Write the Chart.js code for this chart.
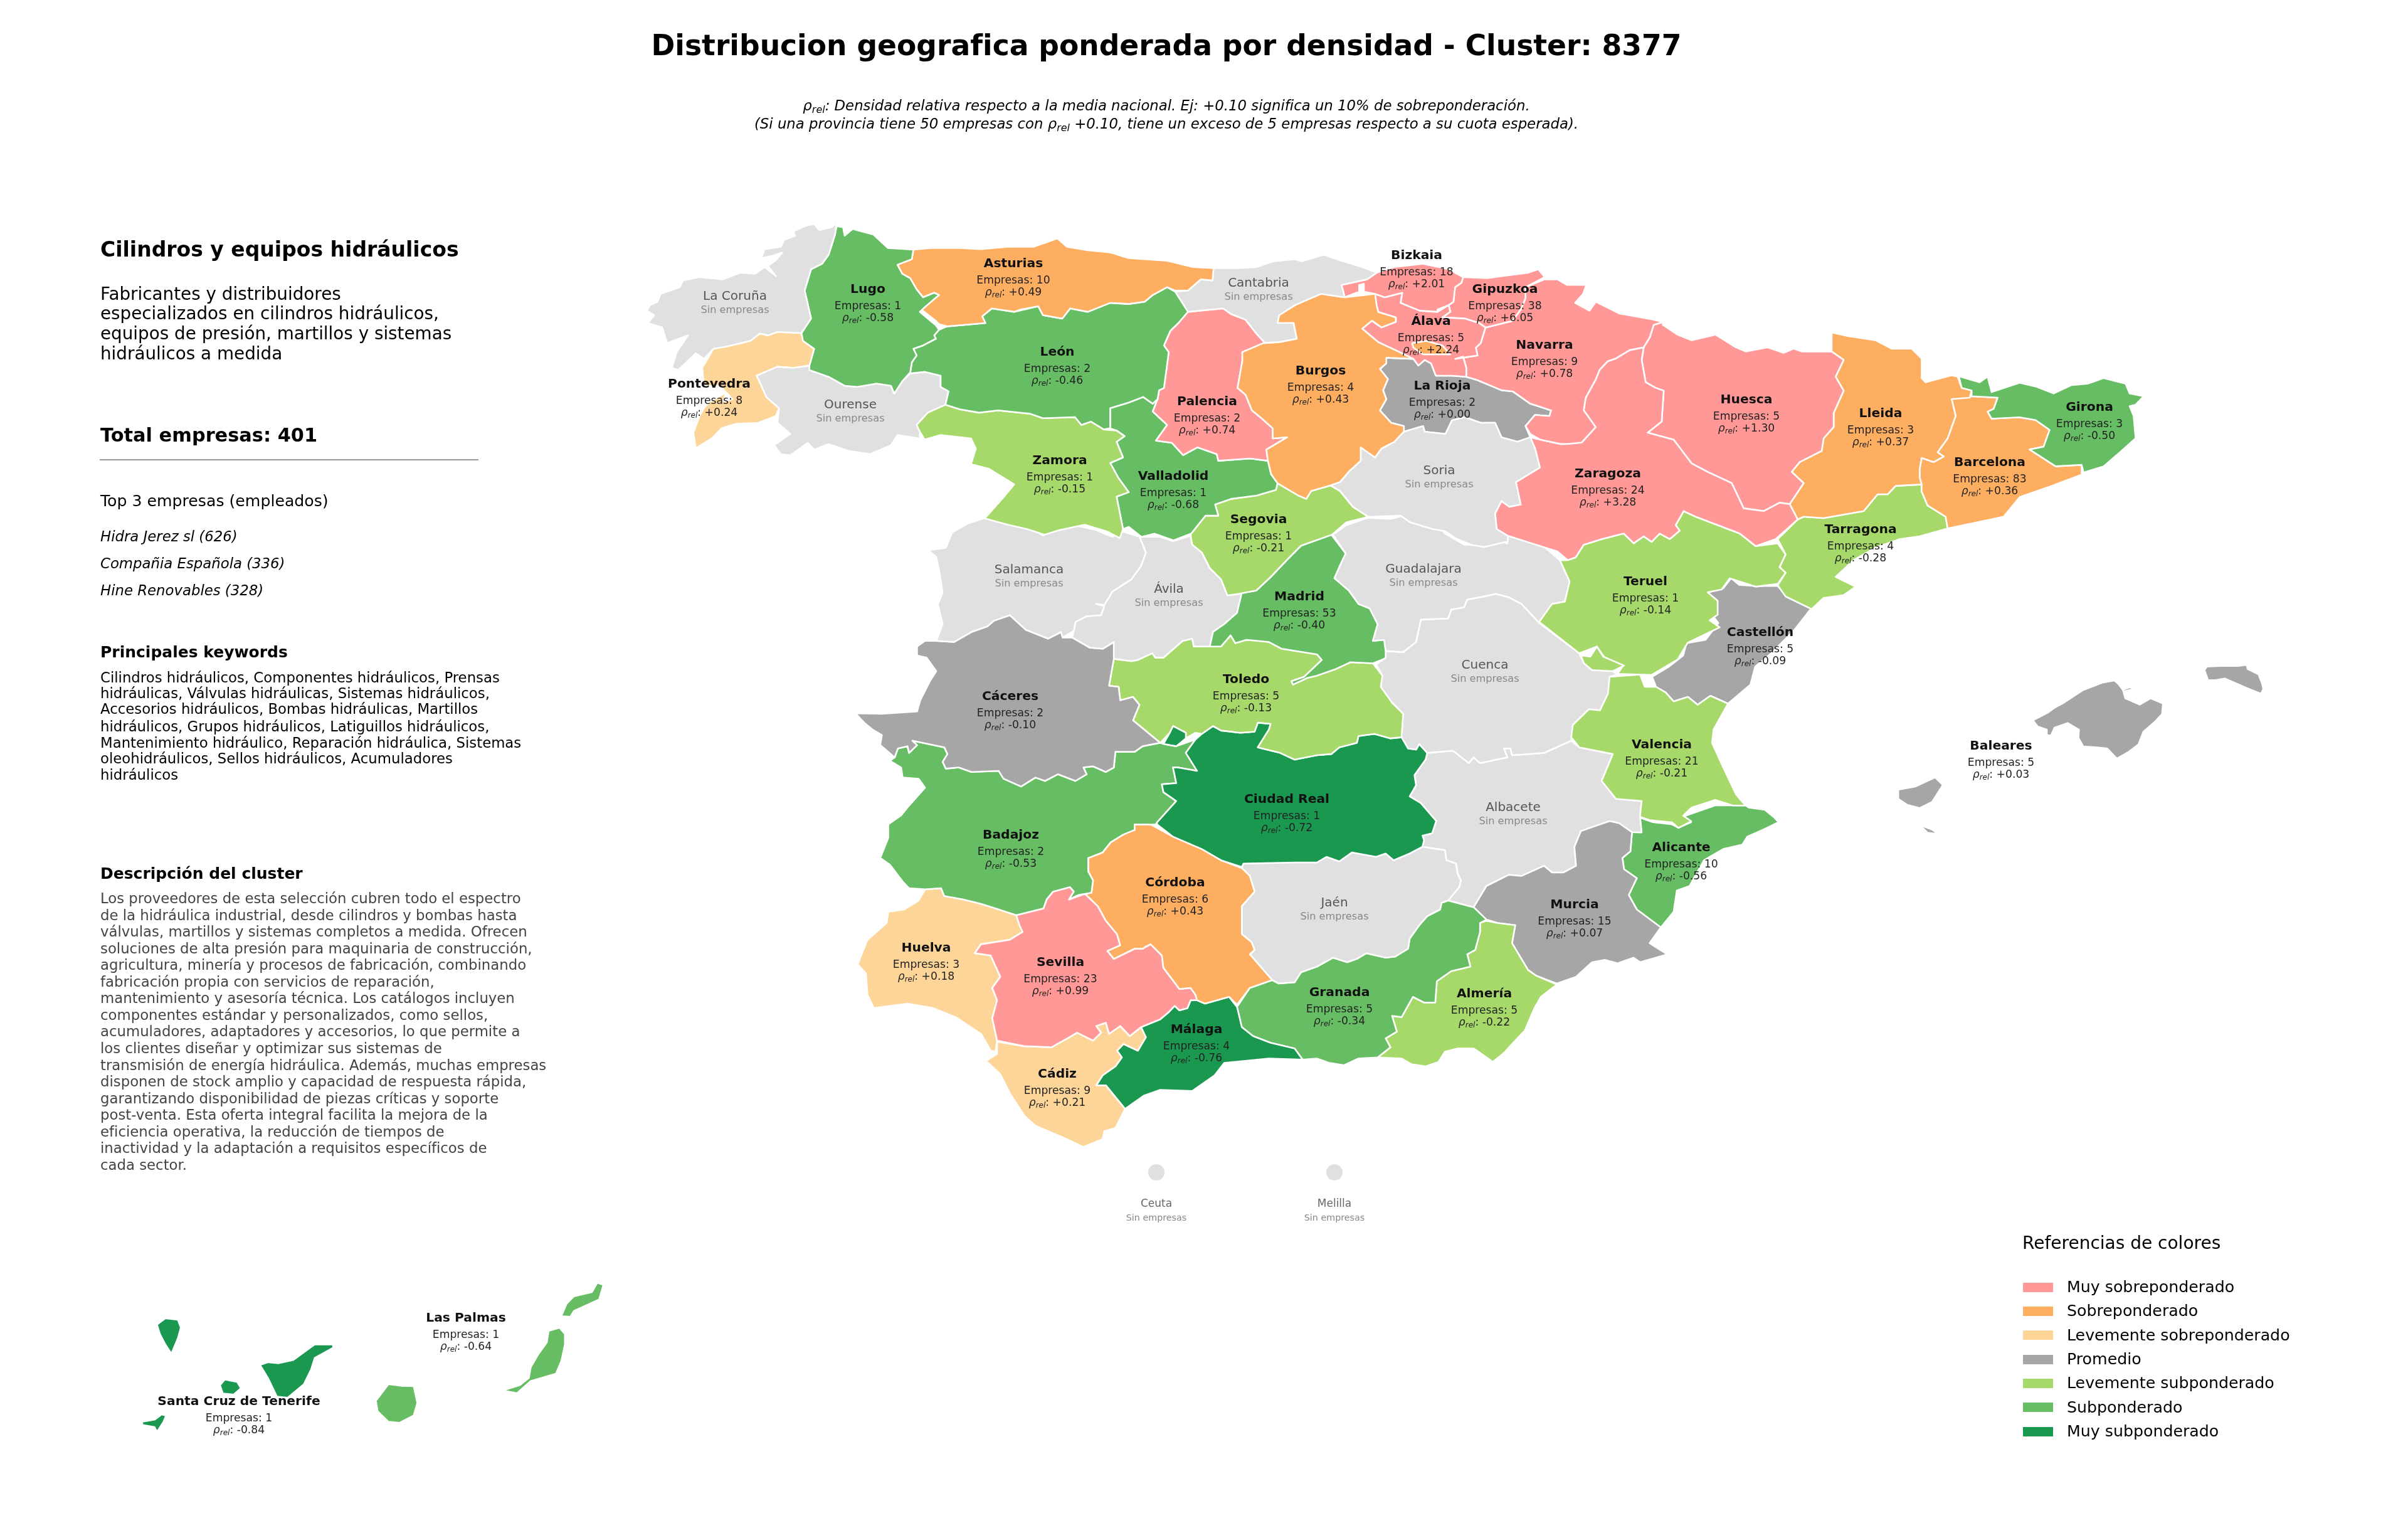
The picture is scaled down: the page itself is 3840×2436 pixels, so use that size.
<!DOCTYPE html>
<html lang="es"><head><meta charset="utf-8">
<script src="https://cdn.jsdelivr.net/npm/chart.js@4"></script>
<style>
html,body{margin:0;padding:0;background:#fff}
#page{position:relative;width:3840px;height:2436px;overflow:hidden;font-family:"DejaVu Sans",sans-serif;color:#000}
canvas{position:absolute;left:0;top:0}
.t{position:absolute;white-space:nowrap;line-height:1}
.c{transform:translate(-50%,-50%);text-align:center}
sub{font-size:.7em;line-height:0;vertical-align:-.25em}
</style></head><body>
<div id="page"><canvas id="map" width="3840" height="2436"></canvas></div>
<script>
// ---- Cuts of the picture that outlines were read from: origin x, origin y, zoom x, zoom y
const Z1=[1000,340,1.96,2.8],Z2=[1800,340,1.96,2.8],Z3=[2500,480,1.568,2.24],Z4=[1340,820,1.96,2.8],
      Z5=[2100,820,1.96,2.8],Z6=[1340,1300,1.96,2.8],Z7=[2100,1200,1.96,2.8],Z8=[100,2000,1.742,3],
      Z10=[3150,1040,2.613,3],OV=[0,0,.4083,.4083];

// ---- Province table
const provinceNames=["La Coruña","Lugo","Asturias","León","Pontevedra","Ourense","Zamora","Cantabria","Bizkaia","Gipuzkoa","Álava","Navarra","Burgos","Palencia","La Rioja","Soria","Valladolid","Segovia","Zaragoza","Huesca","Lleida","Girona","Barcelona","Tarragona","Teruel","Castellón","Salamanca","Ávila","Madrid","Cáceres","Toledo","Ciudad Real","Badajoz","Guadalajara","Cuenca","Valencia","Albacete","Alicante","Córdoba","Huelva","Sevilla","Cádiz","Málaga","Jaén","Granada","Almería","Murcia","Baleares","Las Palmas","Santa Cruz de Tenerife"];
const empresasCounts=[null,1,10,2,8,null,1,null,18,38,5,9,4,2,2,null,1,1,24,5,3,3,83,4,1,5,null,null,53,2,5,1,2,null,null,21,null,10,6,3,23,9,4,null,5,5,15,5,1,1];
const rhoValues=[null,-0.58,0.49,-0.46,0.24,null,-0.15,null,2.01,6.05,2.24,0.78,0.43,0.74,0.00,null,-0.68,-0.21,3.28,1.30,0.37,-0.50,0.36,-0.28,-0.14,-0.09,null,null,-0.40,-0.10,-0.13,-0.72,-0.53,null,null,-0.21,null,-0.56,0.43,0.18,0.99,0.21,-0.76,null,-0.34,-0.22,0.07,0.03,-0.64,-0.84];
const labelX=[1172,1384,1616,1686,1131,1356,1690,2007,2259,2400,2282,2463,2106,1925,2300,2295,1871,2007,2564,2785,2999,3332,3173,2967,2624,2807,1641,1864,2072,1611,1987,2052,1612,2270,2368,2650,2413,2681,1874,1477,1691,1686,1908,2128,2136,2367,2511,3191,743,381];
const labelY=[471,460,419,560,611,644,733,450,406,460,511,549,590,639,614,749,758,827,754,636,658,648,736,843,926,1007,907,938,950,1109,1082,1273,1330,906,1059,1186,1286,1350,1406,1510,1533,1711,1640,1438,1581,1583,1441,1188,2100,2233];

const cityNames=["Ceuta","Melilla"];
const cityX=[1844,2128];
const cityY=[1869,1869];
const cityLabelY=[1918,1918];

const legendLabels=["Muy sobreponderado","Sobreponderado","Levemente sobreponderado","Promedio","Levemente subponderado","Subponderado","Muy subponderado"];
const legendColors=["#FF9896","#FDAE61","#FED599","#A6A6A6","#A6D96A","#66BD63","#1A9850"];
const noDataColor="#E0E0E0";

const topCompanies=["Hidra Jerez sl (626)","Compañia Española (336)","Hine Renovables (328)"];
const keywordLines=["Cilindros hidráulicos, Componentes hidráulicos, Prensas","hidráulicas, Válvulas hidráulicas, Sistemas hidráulicos,","Accesorios hidráulicos, Bombas hidráulicas, Martillos","hidráulicos, Grupos hidráulicos, Latiguillos hidráulicos,","Mantenimiento hidráulico, Reparación hidráulica, Sistemas","oleohidráulicos, Sellos hidráulicos, Acumuladores","hidráulicos"];
const descriptionLines=["Los proveedores de esta selección cubren todo el espectro","de la hidráulica industrial, desde cilindros y bombas hasta","válvulas, martillos y sistemas completos a medida. Ofrecen","soluciones de alta presión para maquinaria de construcción,","agricultura, minería y procesos de fabricación, combinando","fabricación propia con servicios de reparación,","mantenimiento y asesoría técnica. Los catálogos incluyen","componentes estándar y personalizados, como sellos,","acumuladores, adaptadores y accesorios, lo que permite a","los clientes diseñar y optimizar sus sistemas de","transmisión de energía hidráulica. Además, muchas empresas","disponen de stock amplio y capacidad de respuesta rápida,","garantizando disponibilidad de piezas críticas y soporte","post-venta. Esta oferta integral facilita la mejora de la","eficiencia operativa, la reducción de tiempos de","inactividad y la adaptación a requisitos específicos de","cada sector."];
const clusterLines=["Fabricantes y distribuidores","especializados en cilindros hidráulicos,","equipos de presión, martillos y sistemas","hidráulicos a medida"];

// ---- Province outlines
const laCoruna=[Z1,[655,42,640,62,600,75,585,48,560,55,520,80,525,100,490,120,480,150,430,160,420,200,455,190,485,175,465,210,440,235,465,280,430,240,400,270,355,265,300,295,225,285,175,300,165,330,105,360,95,395,72,410,62,435,85,455,65,490,110,510,125,580,190,545,155,620,140,690,160,700,215,625,240,650,270,605,310,595,385,570,415,537,440,545,470,530,545,535,575,470,555,345,575,250,610,225,630,185,650,95]];
const lugo=[Z1,[650,95,655,58,675,62,680,100,705,70,770,95,815,155,895,162,890,205,845,230,860,270,885,290,905,340,925,375,960,355,975,365,930,420,915,440,965,500,975,520,960,545,965,560,925,590,895,605,905,635,890,665,885,710,860,750,835,805,825,770,780,760,720,775,680,770,630,730,570,700,570,680,585,605,550,570,545,535,575,470,555,345,575,250,610,225,630,185]];
const asturias=[Z1,[895,162,950,155,1040,155,1105,160,1190,150,1270,150,1310,130,1345,112,1375,150,1440,165,1510,175],Z2,[0,200,50,205,120,212,200,240,265,245,262,300,225,295,185,345,145,345,120,330,75,365,50,395,0,405],Z1,[1510,400,1440,440,1385,425,1360,470,1300,455,1285,415,1230,430,1210,440,1140,425,1110,460,1120,490,1000,505,975,495,965,480,920,430,975,365,960,355,925,375,905,340,885,290,860,270,845,230,890,205]];
const leon=[Z1,[1000,505,1120,490,1110,460,1140,425,1210,440,1285,415,1300,455,1360,470,1385,425,1440,440,1510,400],Z2,[0,405,50,395,75,365,120,330,145,350,185,440,155,490,130,525,110,590,125,620,110,780,95,790,90,830,75,850,45,820,0,845],Z1,[1510,870,1510,960,1490,965,1450,930,1420,945,1400,910,1300,915,1260,895,1160,880,1100,890,1040,875,995,855,1005,795,980,775,980,725,930,708,885,715,890,665,905,635,895,605,925,590,965,560,960,545,975,520]];
const zamora=[Z1,[995,855,1040,875,1100,890,1160,880,1260,895,1300,915,1400,910,1420,945,1450,930,1490,965,1530,970,1555,995,1530,1020,1550,1090,1510,1115,1535,1180,1568,1245,1530,1265,1550,1410,1540,1450,1500,1420,1430,1390,1350,1415,1305,1435,1250,1410,1190,1390,1118,1362,1175,1270,1210,1210,1130,1140,1075,1120,1090,1050,1075,1005,980,990,930,1010,915,975,905,945,940,890]];
const ourense=[Z1,[570,680,570,700,630,730,680,770,720,775,780,760,825,770,835,805,860,750,885,715,930,708,980,725,980,775,1005,795,995,855,940,890,905,945,915,975,915,1005,845,990,825,1035,760,1075,690,1060,630,1030,585,1055,565,1025,510,1080,480,1075,460,1035,510,985,470,935,475,870,435,820,420,770,405,725,470,685,520,690]];
const pontevedra=[Z1,[415,537,440,545,470,530,545,535,550,570,585,605,570,680,520,690,470,685,405,725,420,770,435,820,475,870,465,905,410,935,340,940,295,960,265,1005,215,1048,207,980,225,910,240,870,260,840,310,800,300,840,330,830,290,770,240,770,235,690,270,605,310,595,385,570]];
const cantabria=[Z2,[265,245,340,245,400,240,450,215,520,205,540,215,610,185,660,210,730,240,775,265,745,295,665,320,675,375,600,360,520,410,470,455,465,490,515,490,525,560,470,575,425,578,395,530,365,475,320,450,295,425,185,440,145,350,185,345,225,295,262,300]];
const bizkaia=[Z2,[665,320,745,295,775,265,830,240,920,225,1000,250,1045,285,1040,310,1020,330,1015,395,1000,410,965,430,965,440,910,435,850,400,855,355,800,375,770,360,735,350,735,315,720,320,720,350,675,375]];
const alava=[Z2,[770,360,800,375,855,355,850,400,910,435,965,440,1000,410,1005,440,980,465,1050,470,1095,490,1115,510,1100,580,1085,600,1090,635,1020,650,1045,640,1055,690,1055,730,1010,725,960,725,945,670,925,655,905,680,890,650,840,615,780,575,730,515,760,480,790,510,835,485,835,465,780,440,775,410]];
const trevino=[Z2,[885,580,930,570,980,590,1005,630,920,630,890,600]];
const gipuzkoa=[Z2,[1045,285,1120,290,1170,280,1250,265,1280,250,1300,285,1240,330,1240,380,1225,430,1200,480,1115,510,1095,490,1050,470,980,465,1005,440,1000,410,1015,395,1020,330,1040,310]];
const navarra=[Z2,[1300,295,1340,295,1370,320,1430,320,1420,360,1395,400,1440,435,1460,395],Z3,[130,45,210,65,238,75,215,85,205,130,190,165,155,175,120,205,100,215,80,245,70,280,45,345,40,390,70,450,35,505,0,510],Z2,[1350,1030,1285,1010,1255,985,1240,950,1270,900,1315,905,1320,880,1255,850,1200,795,1165,790,1090,745,1055,730,1055,690,1045,640,1020,650,1090,635,1085,600,1100,580,1115,510,1200,480,1225,430,1240,380,1240,330]];
const burgos=[Z2,[600,360,675,375,770,360,775,410,780,440,835,465,835,485,790,510,760,480,730,515,780,575,840,615,890,650,805,645,805,670,785,695,810,740,795,790,805,830,785,880,820,935,860,950,860,975,830,1020,790,1050,770,1090,725,1045,725,1105,690,1150,660,1200,630,1215,570,1240,555,1275,530,1260,465,1205,445,1165,435,1105,430,1055,495,1000,450,1005,450,960,415,915,385,880,365,810,340,780,355,660,355,620,420,580,470,575,525,560,515,490,465,490,470,455,520,410]];
const palencia=[Z2,[185,440,295,425,320,450,365,475,395,530,425,578,355,620,355,660,340,780,365,810,385,880,415,915,450,960,450,1005,495,1000,430,1055,435,1105,380,1095,280,1105,275,1075,215,1045,170,1080,135,1025,85,1015,120,945,75,885,90,830,95,790,110,780,125,620,110,590,130,525,155,490]];
const valladolid=[Z2,[0,845,45,820,75,850,90,830,75,885,120,945,85,1015,135,1025,170,1080,215,1045,275,1075,280,1105,380,1095,435,1105,445,1165,465,1205,460,1235,400,1260,320,1275,270,1300,280,1350,240,1350,195,1430,140,1460,80,1430,40,1445,0,1400],Z1,[1550,1410,1530,1265,1568,1245,1535,1180,1510,1115,1550,1090,1530,1020,1555,995,1530,970,1510,960,1510,870]];
const segovia=[Z2,[465,1205,530,1260,555,1275,570,1240,630,1215,660,1240,700,1310,748,1355,680,1380,635,1435],Z4,[1440,140,1395,205,1345,280,1300,340,1245,355,1210,362,1190,290,1155,240,1130,170,1100,135,1095,95],Z2,[195,1430,240,1350,280,1350,270,1300,320,1275,400,1260,460,1235]];
const soria=[Z2,[860,975,920,950,925,975,990,985,1010,925,1050,910,1100,935,1145,935,1165,1000,1215,1020,1255,1000,1270,1050,1285,1135,1210,1200,1225,1300,1190,1310,1165,1285,1145,1340,1150,1410,1185,1440,1185,1465,1110,1490,1070,1480,1020,1450,990,1420,950,1410,880,1380,850,1350,748,1355,700,1310,660,1240,630,1215,660,1200,690,1150,725,1105,725,1045,770,1090,790,1050,830,1020]];
const laRioja=[Z2,[805,645,890,650,905,680,925,655,945,670,960,725,1010,725,1055,730,1090,745,1165,790,1200,795,1255,850,1320,880,1315,905,1270,900,1240,950,1255,1000,1215,1020,1165,1000,1145,935,1100,935,1050,910,1010,925,990,985,925,975,920,950,860,975,860,950,820,935,785,880,805,830,795,790,810,740,785,695,805,670]];
const zaragoza=[Z2,[1255,1000,1285,1010,1350,1030,1372,1029],Z3,[35,505,70,450,40,390,45,345,70,280,80,245,100,215,120,205,155,175,190,165,185,210,195,290,220,310,240,320,235,430,200,470,265,495,310,580,350,610,410,650,440,740,490,750,530,720,555,725,575,780,520,850,470,875,430,830,320,770,290,750,270,800,280,820,255,850,230,830,210,860,190,840,165,865,140,830,85,850,40,870,20,915,0,925],Z2,[1340,1510,1185,1440,1150,1410,1145,1340,1165,1285,1190,1310,1225,1300,1210,1200,1285,1135,1270,1050]];
const huesca=[Z3,[238,75,215,85,205,130,190,165,185,210,195,290,220,310,240,320,235,430,200,470,265,495,310,580,350,610,410,650,440,740,490,750,530,720,555,725,590,650,560,610,580,575,635,535,640,490,665,450,665,400,690,320,670,270,690,210,660,180,585,180,565,170,540,185,500,165,445,180,420,165,370,120,310,140,275,120,238,85]];
const lleida=[Z3,[660,112,700,125,770,140,810,170,860,170,885,205,885,275,895,290,960,265,975,270,985,310,1010,320,1005,345,960,350,970,410,950,490,925,540,940,555,915,575,885,560,880,600,880,630,885,655,820,660,800,690,775,690,740,750,640,775,590,770,575,780,555,725,590,650,560,610,580,575,635,535,640,490,665,450,665,400,690,320,670,270,690,210,660,180]];
const girona=[Z3,[978,268,1030,290,1050,270,1060,325,1130,292,1170,305,1215,330,1260,300,1300,295,1340,275,1395,295,1405,330,1440,340,1420,370,1405,375,1415,410,1420,490,1385,535,1340,590,1290,612,1285,585,1220,590,1155,530,1190,520,1205,460,1170,425,1130,415,1060,420,1050,395,1065,385,1075,345,1010,340,1010,320,985,310]];
const barcelona=[Z3,[960,350,1010,340,1075,345,1065,385,1050,395,1060,420,1130,415,1170,425,1205,460,1190,520,1155,530,1220,590,1285,585,1285,620,1210,660,1130,700,1090,770,950,812,945,770,900,730,885,680,885,655,880,630,880,600,885,560,915,575,940,555,925,540,950,490,970,410]];
const tarragona=[Z3,[575,780,590,770,640,775,740,750,775,690,800,690,820,660,885,655,885,680,900,730,945,770,950,812,880,840,830,850,770,880,715,925,670,985,720,1020,690,1050,640,1060,610,1100,545,1055,525,1015,545,970,530,950,545,905,525,850]];
const teruel=[Z3,[0,925,20,915,40,870,85,850,140,830,165,865,190,840,210,860,230,830,255,850,280,820,270,800,290,750,320,770,430,830,470,875,525,865,545,905,530,950,545,970,525,1010,470,1020,405,990,385,1030,350,1040,375,1070,375,1120,355,1140,380,1165,300,1220,275,1280,210,1335],Z5,[940,712,955,680,900,640,875,590,820,620,695,480,735,400,775,390,790,300,760,205]];
const valencia=[Z5,[915,725,1010,715,1025,770,1060,770,1090,795,1115,835,1160,815,1190,850,1230,810,1285,845,1240,960,1235,1020,1270,1130,1310,1250,1340,1300,1300,1300,1245,1275,1170,1310,1145,1345,1170,1370,1130,1400,1110,1375,1040,1365,1010,1350,1015,1280,935,1270,890,1190,925,1070,820,1040,795,995,800,940,850,870,885,875,910,800]];
const ademuz=[Z5,[825,630,855,635,875,590,895,635,960,675,925,700,860,695,835,665]];
const castellon=[Z5,[1048,725,1100,680,1145,630,1155,575,1215,560,1255,485,1225,430,1245,380,1220,370,1220,350,1270,330,1295,285,1320,315,1370,320,1440,320,1470,365,1525,385,1545,420,1490,520,1420,620,1370,680,1355,760,1285,845,1230,810,1190,850,1160,815,1115,835,1090,795,1060,770]];
const guadalajara=[Z5,[50,90,90,50,160,15,230,20,270,5,380,50,400,85,460,135,510,140,560,110,595,130,595,90,630,80,690,120,760,205,790,300,775,390,735,400,695,485,640,400,600,370,560,355,510,370,470,380,460,415,420,425,410,465,325,470,310,570,270,615,215,610,210,560,175,565,190,490,165,420,130,400,100,340,55,285,75,220,90,175]];
const cuenca=[Z5,[325,470,410,465,420,425,460,415,470,380,510,370,560,355,600,370,640,400,695,485,820,620,835,665,860,695,925,700,940,715,915,725,910,800,885,875,850,870,800,940,795,1010,710,1065,610,1075,605,1045,585,1045,595,1085,510,1110,490,1085,475,1110,425,1055,345,1065,320,1025,310,1050,285,1045,265,995,270,890,235,840,200,770,205,720,185,670,215,640,215,610,270,615,310,570]];
const madrid=[Z5,[45,90,90,175,75,220,55,285,100,340,130,400,165,420,190,490,175,565,210,560,220,640,175,665,105,660,60,690,0,720],Z4,[1460,730,1415,760,1410,745,1450,725,1505,650,1490,625,1380,600,1340,570,1270,560,1235,575,1220,540,1190,590,1155,590,1165,525,1200,490,1240,440,1255,350,1300,340,1345,280,1395,205,1440,140]];
const salamanca=[Z4,[451,17,520,40,610,75,635,95,650,50,720,45,800,70,850,100,880,75,935,100,955,170,940,230,910,290,850,345,825,405,800,400,825,410,815,450,770,455,735,480,730,520,695,550,690,525,650,555,580,515,530,450,480,475,460,500,410,525,355,570,300,565,320,490,305,400,320,350,310,260,300,190,275,160,330,150,350,80,400,40]];
const avila=[Z4,[935,100,1000,100,1040,120,1095,95,1100,135,1130,170,1155,240,1190,290,1210,362,1255,355,1240,440,1200,490,1165,525,1155,590,1105,590,1100,555,1070,565,1010,640,985,640,975,620,930,650,910,655,855,645,855,570,820,600,780,595,725,550,730,520,735,480,770,455,815,450,825,410,800,400,825,405,850,345,910,290,940,230,955,170]];
const caceres=[Z4,[530,450,580,515,650,555,690,525,695,550,725,550,780,595,820,600,855,570,855,645,840,765,870,770,875,830,915,815,935,850,915,920,1000,1020,945,1035,920,1060,860,1060,855,1130,830,1150,790,1125,760,1130,770,1160,735,1190,680,1160,640,1190,610,1175,565,1215,510,1180,495,1145,410,1150,370,1130,330,1135,320,1105,335,1070,325,1040,225,1010,240,1030,215,1065,210,1035,180,1045,170,1085,125,1030,130,985,100,960,75,930,47,888,130,890,240,880,250,830,280,745,300,700,270,640,240,630,240,590,265,565,300,565,355,570,410,525,460,500,480,475]];
const toledo=[Z4,[855,645,910,655,930,650,975,620,985,640,1010,640,1070,565,1100,555,1105,590,1155,590,1190,590,1220,540,1235,575,1270,560,1340,570,1380,600,1490,625,1505,650,1450,725,1410,745,1415,760,1460,730,1490,720],Z5,[60,690,105,660,175,665,205,720,200,770,235,840,270,890,265,995,230,1000,180,980,130,990,125,1020,70,1040,45,1070],Z4,[1490,1075,1420,1095,1375,1065,1305,1040,1340,960,1345,935,1305,930,1295,970,1250,975,1190,965,1165,945,1130,980,1110,975,1080,1000,1080,975,1040,945,1030,975,1000,1020,915,920,935,850,915,815,875,830,870,770,840,765]];
const ciudadReal=[Z4,[1110,1005,1130,980,1165,945,1190,965,1250,975,1295,970,1305,930,1345,935,1340,960,1305,1040,1375,1065,1420,1095,1490,1075],Z5,[45,1070,70,1040,125,1020,130,990,180,980,230,1000,265,995,285,1045,310,1050,320,1025,345,1065],Z7,[340,30,305,100,310,145,290,195,325,225,373,305,360,360,330,370,335,390,330,420,290,450,240,480,215,450,185,465,110,445,70,485,30,465,0,490],Z6,[1420,210,1260,215,1255,230,1190,200,1130,150,1040,95,990,40],Z4,[990,1375,1050,1280,1010,1240,1005,1205,1050,1200,1040,1130,1055,1130,1115,1145,1080,1065]];
const almadenEnclave=[Z4,[1040,945,1080,975,1080,1000,1050,1035,1010,1025,1030,975]];
const badajoz=[Z4,[170,1085,180,1045,210,1035,215,1065,240,1030,225,1010,325,1040,335,1070,320,1105,330,1135,370,1130,410,1150,495,1145,510,1180,565,1215,610,1175,640,1190,680,1160,735,1190,770,1160,760,1130,790,1125,830,1150,855,1130,860,1060,920,1060,945,1035,1000,1020,1010,1025,1050,1035,1110,1005,1080,1065,1115,1145,1055,1130,1040,1130,1050,1200,1005,1205,1010,1240,1050,1280,990,1375],Z6,[985,41,920,40,920,65,885,85,845,120,820,165,775,190,775,250,790,290,785,345,745,355,715,375,730,340,718,320,665,340,645,375,635,415,550,445,485,415,440,395,385,375,325,360,315,325,265,330,215,325,195,295,155,220,125,190,150,100,150,40,190,0],Z4,[215,1300,265,1220,245,1180,195,1175,190,1130,155,1100]];
const cordoba=[Z6,[920,40,970,40,1040,95,1130,150,1190,200,1255,235,1280,270,1295,340,1255,405,1255,530,1285,565,1295,600,1280,620,1350,735,1280,770,1240,845,1215,810,1140,840,1115,825,1110,800,1095,770,1060,775,1010,680,1005,625,970,575,955,585,945,595,920,595,855,640,835,605,875,580,865,530,830,470,805,405,765,350,785,345,790,290,775,250,775,190,820,165,845,120,885,85]];
const sevilla=[Z6,[550,445,635,415,645,375,665,340,718,320,730,340,715,375,765,350,805,405,830,470,865,530,875,580,835,605,855,640,920,595,945,595,970,575,1005,625,1010,680,1060,775,1095,770,1110,800,1115,825,1095,825,1085,860,1060,870,1045,850,1025,880,1000,910,940,945,905,985,875,940,840,975,830,925,800,940,815,970,790,1005,740,970,710,995,660,1035,575,1030,490,1005,475,905,490,825,475,770,500,720,470,625,420,615,440,575,530,555,570,520,560,490]];
const huelva=[Z6,[265,330,315,325,325,360,385,375,440,395,485,415,550,445,560,490,570,520,530,555,440,575,420,615,470,625,500,720,475,770,490,825,475,905,490,1005,485,1055,470,1050,440,975,360,900,290,860,210,840,105,860,85,800,80,705,55,665,65,625,85,555,145,480,150,430,200,420,245,380]];
const cadiz=[Z6,[490,1010,575,1030,660,1035,710,995,740,970,790,1005,815,970,800,940,830,925,840,975,875,940,905,985,940,945,955,990,930,1050,885,1020,865,1050,880,1080,860,1120,820,1160,800,1205,830,1205,890,1310,860,1395,825,1410,820,1445,760,1480,700,1440,610,1385,575,1340,530,1240,500,1155,455,1095,490,1065]];
const malaga=[Z6,[1095,825,1115,825,1140,840,1215,810,1240,855,1255,945,1290,985,1345,1015,1420,1040,1445,1090,1340,1085,1200,1105,1170,1160,1100,1230,1000,1225,950,1250,890,1310,830,1205,765,1215,765,1205,800,1205,820,1160,860,1120,880,1080,865,1050,885,1020,930,1050,955,990,940,945,1000,910,1025,880,1045,850,1060,870,1085,860]];
const jaen=[Z6,[1255,235,1260,215,1420,210,1490,210],Z7,[30,465,70,485,110,445,185,465,215,450,240,480,290,450,330,420,400,435,405,480,435,495,440,540,450,570,445,600,410,660,390,670,385,700,345,730,320,770,290,830,285,875,245,910,215,915,155,895,125,920,95,935,50,915,0,955],Z6,[1440,700,1420,745,1370,750,1350,735,1280,620,1295,600,1285,565,1255,530,1255,405,1295,340,1280,270]];
const granada=[Z7,[410,660,490,690,530,745,510,760,510,800,495,880,470,900,480,955,420,975,375,1020,370,1115,335,1115,300,1090,265,1180,235,1175,250,1245,215,1275,230,1315,190,1360,130,1365,85,1395,40,1385,0,1365],Z6,[1445,1090,1420,1040,1345,1015,1290,985,1255,945,1240,855,1280,770,1350,735,1370,750,1420,745,1440,700,1490,675],Z7,[50,915,95,935,125,920,155,895,215,915,245,910,285,875,290,830,320,770,345,730,385,700,390,670]];
const almeria=[Z7,[530,750,565,760,620,770,610,850,660,970,685,995,750,1035,700,1090,680,1140,650,1240,610,1300,585,1340,550,1380,490,1320,440,1320,400,1335,380,1380,340,1400,295,1390,265,1365,190,1360,230,1315,215,1275,250,1245,235,1175,265,1180,300,1090,335,1115,370,1115,375,1020,420,975,480,955,470,900,495,880,510,800,510,760]];
const murcia=[Z7,[490,690,530,595,600,545,640,550,710,505,735,535,770,535,810,505,805,420,825,350,855,335,915,305,945,315,985,355,980,440,955,470,960,520,1000,560,975,635,1000,700,1075,780,1040,850,1095,900,1010,935,990,915,940,940,900,925,860,935,810,1000,750,1030,685,995,660,970,610,850,620,770,565,760,530,745]];
const albacete=[Z5,[345,1065,425,1055,475,1110,490,1085,510,1110,595,1085,585,1045,605,1045,610,1075,710,1065,795,1010,820,1040,925,1070,890,1190,935,1270,1015,1280,1010,1350,1015,1420],Z7,[985,355,945,315,915,305,855,335,825,350,805,420,810,505,770,535,735,535,710,505,640,550,600,545,530,595,490,690,410,660,445,600,450,570,440,540,435,495,405,480,400,435,330,420,335,390,330,370,360,360,373,305,325,225,290,195,310,145,305,100,340,30]];
const alicante=[Z7,[1010,290,1050,310,1110,320,1130,335,1170,310,1145,285,1245,235,1300,235,1340,235,1350,245,1400,255,1430,290,1443,310,1400,340,1345,375,1330,410,1270,430,1210,480,1190,530,1165,595,1125,615,1115,710,1075,780,1000,700,975,635,1000,560,960,520,955,470,980,440,985,355,1015,355]];
const mallorca=[Z10,[240,325,300,290,330,265,370,240,410,210,450,180,530,145,580,135,595,150,615,180,625,220,685,250,730,220,782,245,778,295,750,330,700,380,680,440,640,475,590,508,550,460,510,455,450,450,430,410,432,370,385,338,330,360,315,398,300,395,298,370,260,355]];
const menorca=[Z10,[955,85,965,68,1020,65,1095,65,1130,60,1135,80,1180,105,1195,150,1200,175,1190,198,1130,170,1040,125,1000,133,970,133]];
const alcudiaIslet=[Z10,[612,180,650,165,650,178,620,187]];
const cabrera=[Z10,[520,582,535,582,530,590]];
const ibiza=[OV,[1236,514,1247,512,1260,506,1265,511,1258,522,1250,526,1242,524,1236,520]];
const formentera=[OV,[1250,537,1258,540,1262,543,1255,542]];
const laPalma=[Z8,[262,335,285,305,320,312,328,350,320,400,302,475,285,430,270,380]];
const tenerife=[Z8,[548,528,570,515,600,520,640,505,680,455,700,430,750,430,752,445,700,495,690,550,670,620,625,685,595,680,570,590]];
const laGomera=[Z8,[437,625,450,598,485,610,495,640,475,670,445,665]];
const elHierro=[Z8,[220,800,255,790,275,765,287,770,280,800,262,848,255,825,222,815]];
const granCanaria=[Z8,[870,700,905,620,940,628,975,630,985,710,975,770,935,805,905,800,875,750]];
const fuerteventura=[Z8,[1350,365,1380,350,1395,380,1395,430,1385,510,1370,570,1300,605,1262,663,1222,650,1270,625,1295,590,1300,540,1320,480,1345,420]];
const lanzarote=[Z8,[1385,295,1400,235,1420,200,1470,180,1485,135,1502,145,1490,215,1420,270,1410,298]];
const graciosa=[Z8,[1478,125,1483,108,1487,115]];

// which outlines (first drawn on top) belong to which province
const parts=[[trevino,"Burgos"],[almadenEnclave,"Ciudad Real"],[ademuz,"Valencia"],
 [laCoruna,"La Coruña"],[lugo,"Lugo"],[asturias,"Asturias"],[leon,"León"],[zamora,"Zamora"],[ourense,"Ourense"],[pontevedra,"Pontevedra"],[cantabria,"Cantabria"],[bizkaia,"Bizkaia"],[alava,"Álava"],[gipuzkoa,"Gipuzkoa"],[navarra,"Navarra"],[burgos,"Burgos"],[palencia,"Palencia"],[valladolid,"Valladolid"],[segovia,"Segovia"],[soria,"Soria"],[laRioja,"La Rioja"],[zaragoza,"Zaragoza"],[huesca,"Huesca"],[lleida,"Lleida"],[girona,"Girona"],[barcelona,"Barcelona"],[tarragona,"Tarragona"],[teruel,"Teruel"],[valencia,"Valencia"],[castellon,"Castellón"],[guadalajara,"Guadalajara"],[cuenca,"Cuenca"],[madrid,"Madrid"],[salamanca,"Salamanca"],[avila,"Ávila"],[caceres,"Cáceres"],[toledo,"Toledo"],[ciudadReal,"Ciudad Real"],[badajoz,"Badajoz"],[cordoba,"Córdoba"],[sevilla,"Sevilla"],[huelva,"Huelva"],[cadiz,"Cádiz"],[malaga,"Málaga"],[jaen,"Jaén"],[granada,"Granada"],[almeria,"Almería"],[murcia,"Murcia"],[albacete,"Albacete"],[alicante,"Alicante"],
 [mallorca,"Baleares"],[menorca,"Baleares"],[alcudiaIslet,"Baleares"],[cabrera,"Baleares"],[ibiza,"Baleares"],[formentera,"Baleares"],
 [laPalma,"Santa Cruz de Tenerife"],[tenerife,"Santa Cruz de Tenerife"],[laGomera,"Santa Cruz de Tenerife"],[elHierro,"Santa Cruz de Tenerife"],
 [granCanaria,"Las Palmas"],[fuerteventura,"Las Palmas"],[lanzarote,"Las Palmas"],[graciosa,"Las Palmas"]];

function decode(outline){
  const pts=[];
  for(let i=0;i<outline.length;i+=2){
    const [ox,oy,sx,sy]=outline[i],c=outline[i+1];
    for(let j=0;j<c.length;j+=2) pts.push({x:ox+c[j]/sx,y:oy+c[j+1]/sy});
  }
  pts.push({...pts[0]});
  return pts;
}
function category(r){
  if(r===null) return noDataColor;
  if(r>0.5) return legendColors[0];
  if(r>0.3) return legendColors[1];
  if(r>0.1) return legendColors[2];
  if(r>-0.11) return legendColors[3];
  if(r>-0.3) return legendColors[4];
  if(r>-0.7) return legendColors[5];
  return legendColors[6];
}
const datasets=parts.map(([o,name])=>{
  const c=category(rhoValues[provinceNames.indexOf(name)]);
  return {label:name,data:decode(o),showLine:true,fill:'shape',backgroundColor:c,borderColor:'#fff',borderWidth:2.6,pointRadius:0,tension:0,borderJoinStyle:'round'};
});
datasets.push({label:'Ceuta y Melilla',data:cityX.map((x,i)=>({x,y:cityY[i]})),showLine:false,pointRadius:13,pointBackgroundColor:noDataColor,pointBorderWidth:0});

const chart=new Chart(document.getElementById('map'),{
  type:'scatter',
  data:{datasets},
  options:{responsive:false,animation:false,devicePixelRatio:1,layout:{padding:0,autoPadding:false},
    plugins:{legend:{display:false},tooltip:{enabled:false},title:{display:false}},
    scales:{x:{type:'linear',min:0,max:3840,display:false},y:{type:'linear',min:0,max:2436,reverse:true,display:false}}}
});

// ---- Text
const page=document.getElementById('page');
function put(html,x,y,size,opt={}){
  const d=document.createElement('div');d.className='t'+(opt.center?' c':'');d.innerHTML=html;
  d.style.left=x+'px';d.style.top=y+'px';d.style.fontSize=size+'px';
  if(opt.bold)d.style.fontWeight='bold';if(opt.italic)d.style.fontStyle='oblique';if(opt.color)d.style.color=opt.color;
  page.appendChild(d);return d;
}
const rhoTag='<i>ρ</i><sub><i>rel</i></sub>';
put('Distribucion geografica ponderada por densidad - Cluster: 8377',1860,73,45.6,{center:1,bold:1});
put(rhoTag+': Densidad relativa respecto a la media nacional. Ej: +0.10 significa un 10% de sobreponderación.',1860,168,22.8,{center:1,italic:1});
put('(Si una provincia tiene 50 empresas con '+rhoTag+' +0.10, tiene un exceso de 5 empresas respecto a su cuota esperada).',1860,197,22.8,{center:1,italic:1});

const L=160;
put('Cilindros y equipos hidráulicos',L,381,33,{bold:1});
clusterLines.forEach((s,i)=>put(s,L,[455,486,518,550][i],27.8));
put('Total empresas: 401',L,679,30.4,{bold:1});
const rule=document.createElement('div');rule.style.cssText='position:absolute;left:159px;top:732px;width:604px;height:2px;background:#999';page.appendChild(rule);
put('Top 3 empresas (empleados)',L,786,25.2);
topCompanies.forEach((s,i)=>put(s,L,[844,887,930][i],22.8,{italic:1}));
put('Principales keywords',L,1027,25,{bold:1});
keywordLines.forEach((s,i)=>put(s,L,[1069,1094,1119,1147,1173,1198,1224][i],22.8));
put('Descripción del cluster',L,1380,25,{bold:1});
descriptionLines.forEach((s,i)=>put(s,L,1421+i*26.55,22.8,{color:'#444'}));

// province labels follow the map scales
const sx=chart.scales.x,sy=chart.scales.y;
provinceNames.forEach((n,i)=>{
  const x=sx.getPixelForValue(labelX[i]),y=sy.getPixelForValue(labelY[i]);
  if(empresasCounts[i]===null){
    put(n,x,y,20,{center:1,color:'#555'});
    put('Sin empresas',x,y+23,16.2,{center:1,color:'#888'});
  }else{
    const r=rhoValues[i];
    put(n,x,y,20.3,{center:1,bold:1,color:'#111'});
    put('Empresas: '+empresasCounts[i],x,y+28,17.2,{center:1,color:'#222'});
    put(rhoTag+': '+(r>=0?'+':'')+r.toFixed(2),x,y+47,17.2,{center:1,color:'#222'});
  }
});
cityNames.forEach((n,i)=>{
  const x=sx.getPixelForValue(cityX[i]),y=sy.getPixelForValue(cityLabelY[i]);
  put(n,x,y,17,{center:1,color:'#666'});
  put('Sin empresas',x,y+23,14.3,{center:1,color:'#888'});
});

// legend
put('Referencias de colores',3225,1968,28);
legendLabels.forEach((s,i)=>{
  const yc=2052+i*38.35;
  const b=document.createElement('div');
  b.style.cssText='position:absolute;left:3226px;width:48px;height:15px;top:'+(yc-7.5)+'px;background:'+legendColors[i];
  page.appendChild(b);
  put(s,3296,yc-13,25.25);
});
</script>
</body></html>
